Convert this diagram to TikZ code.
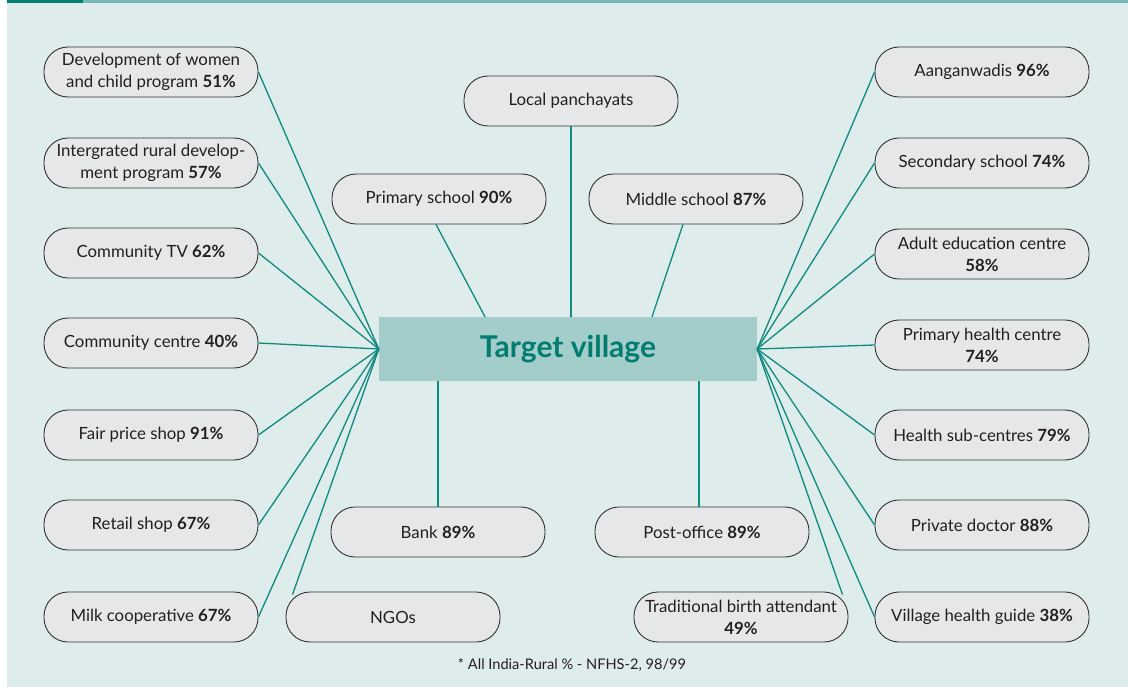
\documentclass[tikz,border=0pt]{standalone}
\usepackage{fontspec}
\setmainfont{Lato}
\usetikzlibrary{calc}
\definecolor{bgc}{HTML}{DEECEB}
\definecolor{bardark}{HTML}{00806F}
\definecolor{barlight}{HTML}{74B9B1}
\definecolor{boxfill}{HTML}{E6E7E9}
\definecolor{boxline}{HTML}{333333}
\definecolor{textc}{HTML}{231F20}
\definecolor{linkc}{HTML}{0E8A80}
\definecolor{centerc}{HTML}{A3CDCB}
\definecolor{titlec}{HTML}{007D6E}
\begin{document}
\begin{tikzpicture}[x=1pt,y=-1pt,
  box/.style={draw=boxline, fill=boxfill, line width=0.9pt, rounded corners=24pt,
    minimum width=214pt, minimum height=50pt, inner sep=0pt, align=center,
    font=\fontsize{16.8}{22}\selectfont, text=textc},
  link/.style={draw=linkc, line width=1.3pt}]
\fill[white] (0,0) rectangle (1128,687);
\fill[bgc] (7,0) rectangle (1128,687);
\fill[bardark] (7,0) rectangle (83,3);
\fill[barlight] (83,0) rectangle (1128,3);
\useasboundingbox (0,0) rectangle (1128,687);

% centre
\node[fill=centerc, minimum width=378pt, minimum height=64pt, inner sep=0pt,
  font=\fontsize{30}{34}\selectfont\bfseries, text=titlec] (tv) at (568,349) {Target village};

% left column
\node[box] (l1) at (151,72) {Development of women\\and child program \textbf{51\%}};
\node[box] (l2) at (151,163) {Intergrated rural develop-\\ment program \textbf{57\%}};
\node[box] (l3) at (151,253) {Community TV \textbf{62\%}};
\node[box] (l4) at (151,343) {Community centre \textbf{40\%}};
\node[box] (l5) at (151,435) {Fair price shop \textbf{91\%}};
\node[box] (l6) at (151,525) {Retail shop \textbf{67\%}};
\node[box] (l7) at (151,617) {Milk cooperative \textbf{67\%}};

% right column
\node[box] (r1) at (982,72) {Aanganwadis \textbf{96\%}};
\node[box] (r2) at (982,163) {Secondary school \textbf{74\%}};
\node[box] (r3) at (982,254) {Adult education centre\\\textbf{58\%}};
\node[box] (r4) at (982,345) {Primary health centre\\\textbf{74\%}};
\node[box] (r5) at (982,435) {Health sub-centres \textbf{79\%}};
\node[box] (r6) at (982,525) {Private doctor \textbf{88\%}};
\node[box] (r7) at (982,617) {Village health guide \textbf{38\%}};

% middle
\node[box] (lp) at (571,101) {Local panchayats};
\node[box] (ps) at (439,199) {Primary school \textbf{90\%}};
\node[box] (ms) at (696,199) {Middle school \textbf{87\%}};
\node[box] (bk) at (438,532) {Bank \textbf{89\%}};
\node[box] (po) at (702,532) {Post-office \textbf{89\%}};
\node[box] (ngo) at (393,617) {NGOs};
\node[box] (tba) at (741,617) {Traditional birth attendant\\\textbf{49\%}};

% footer
\node[font=\fontsize{14.6}{16}\selectfont, text=textc] (ft) at (572,665) {* All India-Rural \% - NFHS-2, 98/99};

% connectors left
\foreach \n in {l1,l2,l3,l4,l5,l6,l7} \draw[link] (\n.east) -- (tv.west);
\draw[link] ($(ngo.north west)+(7,3)$) -- (tv.west);
% connectors right
\foreach \n in {r1,r2,r3,r4,r5,r6,r7} \draw[link] (\n.west) -- (tv.east);
\draw[link] ($(tba.north east)+(-6,3)$) -- (tv.east);
% connectors middle
\draw[link] (lp.south) -- (lp.south |- tv.north);
\draw[link] ([xshift=-3pt]ps.south) -- ([xshift=-83pt]tv.north);
\draw[link] ([xshift=-13pt]ms.south) -- ([xshift=84pt]tv.north);
\draw[link] (bk.north) -- (bk.north |- tv.south);
\draw[link] ([xshift=-3pt]po.north) -- ([xshift=-3pt]po.north |- tv.south);
\end{tikzpicture}
\end{document}
